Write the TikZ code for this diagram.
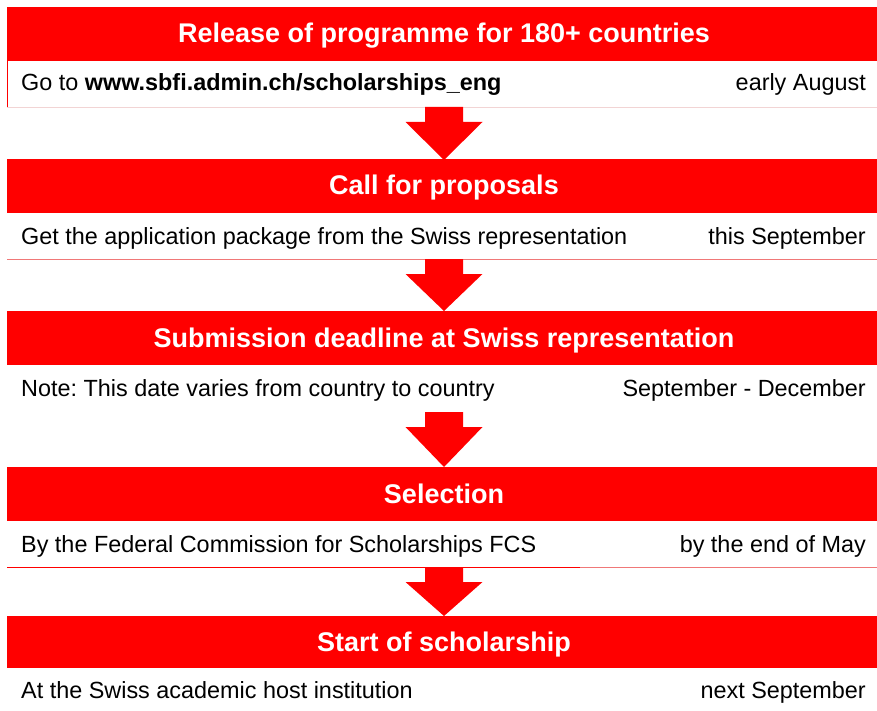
\documentclass[tikz,border=0pt]{standalone}
\usepackage{fontspec}
\setmainfont{Liberation Sans}
\usetikzlibrary{calc}
\definecolor{swred}{RGB}{255,0,0}
\definecolor{linepink}{RGB}{242,212,212}
\definecolor{linered}{RGB}{240,120,120}
\tikzset{
  band/.style={fill=swred, draw=none, anchor=north west, minimum width=870pt, minimum height=54pt, inner sep=0pt},
  headtxt/.style={anchor=base, inner sep=0pt, text=white, font=\fontsize{27}{30}\selectfont\bfseries},
  rowbox/.style={fill=white, draw=none, anchor=north west, minimum width=870pt, inner sep=0pt},
  lefttxt/.style={anchor=base west, inner sep=0pt, font=\fontsize{23.4}{26}\selectfont},
  righttxt/.style={anchor=base east, inner sep=0pt, font=\fontsize{23.4}{26}\selectfont},
  downarrow/.style={fill=swred, draw=none}
}
\newcommand{\bigarrow}[2]{%
  \fill[downarrow] ($(#1)+(-19,0)$) -- ($(#1)+(19,0)$) -- ($(#1)+(19,15)$) -- ($(#1)+(38.5,15)$)
    -- ($(#2)$) -- ($(#1)+(-38.5,15)$) -- ($(#1)+(-19,15)$) -- cycle;}
\frenchspacing
\begin{document}
\begin{tikzpicture}[x=1pt,y=-1pt]
\useasboundingbox (0,0) rectangle (877,711);
% bands
\node[band] (h1) at (7,7) {};
\node[band] (h2) at (7,159) {};
\node[band] (h3) at (7,311) {};
\node[band] (h4) at (7,467) {};
\node[band, minimum height=52pt] (h5) at (7,616) {};
% header texts
\node[headtxt] (t1) at (444,43) {Release of programme for 180+ countries};
\node[headtxt] (t2) at (444,195) {Call for proposals};
\node[headtxt] (t3) at (444,347) {Submission deadline at Swiss representation};
\node[headtxt] (t4) at (444,503) {Selection};
\node[headtxt] (t5) at (444,651) {Start of scholarship};
% row boxes
\node[rowbox, minimum height=46pt] (r1) at (7,61) {};
\node[rowbox, minimum height=46pt] (r2) at (7,213) {};
\node[rowbox, minimum height=47pt] (r3) at (7,365) {};
\node[rowbox, minimum height=46pt] (r4) at (7,521) {};
\node[rowbox, minimum height=43pt] (r5) at (7,668) {};
% row lines
\draw[draw=linepink, line width=1.2pt] (r1.south west) -- (r1.south east);
\draw[draw=swred, line width=1.2pt] ($(r1.north west)+(0.6,0)$) -- ($(r1.south west)+(0.6,0)$);
\draw[draw=linered, line width=1.4pt] (r2.south west) -- (r2.south east);
\coordinate (r4m) at ($(r4.south west)+(573,0)$);
\draw[draw=swred, line width=1.8pt] (r4.south west) -- (r4m);
\draw[draw=linered, line width=1.2pt] (r4m) -- (r4.south east);
% row texts
\node[lefttxt] (l1) at (21,91) {Go to \textbf{www.sbfi.admin.ch/scholarships\_eng}};
\node[righttxt] (g1) at (866,91) {early August};
\node[lefttxt] (l2) at (21,244) {Get the application package from the Swiss representation};
\node[righttxt] (g2) at (866,244) {this September};
\node[lefttxt] (l3) at (21,396) {Note: This date varies from country to country};
\node[righttxt] (g3) at (866,396) {September - December};
\node[lefttxt] (l4) at (21,552) {By the Federal Commission for Scholarships FCS};
\node[righttxt] (g4) at (866,552) {by the end of May};
\node[lefttxt] (l5) at (21,698) {At the Swiss academic host institution};
\node[righttxt] (g5) at (866,698) {next September};
% arrows
\coordinate (a1) at (444,107); \coordinate (b1) at (444,160);
\coordinate (a2) at (444,259); \coordinate (b2) at (444,311);
\coordinate (a3) at (444,412); \coordinate (b3) at (444,467);
\coordinate (a4) at (444,567); \coordinate (b4) at (444,616);
\bigarrow{a1}{b1}
\bigarrow{a2}{b2}
\bigarrow{a3}{b3}
\bigarrow{a4}{b4}
\end{tikzpicture}
\end{document}
